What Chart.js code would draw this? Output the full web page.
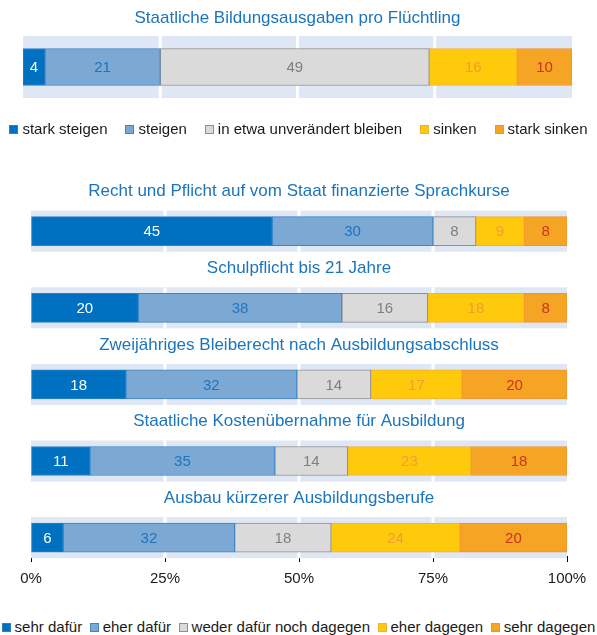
<!DOCTYPE html>
<html>
<head>
<meta charset="utf-8">
<script src="https://cdn.jsdelivr.net/npm/chart.js@4"></script>
<style>
  body { margin: 0; background: #fff; }
  #wrap { position: relative; width: 597px; height: 635px; font-family: 'Liberation Sans', Arial, sans-serif; }
  canvas { position: absolute; left: 0; }
  #top { top: 0; }
  #bottom { top: 150px; }
  .legend { position: absolute; left: 0; width: 597px; display: flex; justify-content: center; font-size: 15px; line-height: 18px; color: #1a1a1a; white-space: nowrap; }
  .legend .item { display: flex; align-items: center; }
  .legend i { display: inline-block; width: 7px; height: 7px; border: 1px solid; margin-right: 4px; }
  #legendTop { top: 120px; }
  #legendTop .item + .item { margin-left: 18px; }
  #legendBottom { top: 618px; }
  #legendBottom .item + .item { margin-left: 7.5px; }
</style>
</head>
<body>
<div id="wrap">
  <canvas id="top" width="597" height="150"></canvas>
  <div class="legend" id="legendTop"></div>
  <canvas id="bottom" width="597" height="450"></canvas>
  <div class="legend" id="legendBottom"></div>
</div>
<script>
const fontFamily = "'Liberation Sans', Arial, sans-serif";

// oberes Diagramm
const topTitle = 'Staatliche Bildungsausgaben pro Flüchtling';
const topSeries = ['stark steigen', 'steigen', 'in etwa unverändert bleiben', 'sinken', 'stark sinken'];
const topValues = [4, 21, 49, 16, 10];

// unteres Diagramm
const categories = [
  'Recht und Pflicht auf vom Staat finanzierte Sprachkurse',
  'Schulpflicht bis 21 Jahre',
  'Zweijähriges Bleiberecht nach Ausbildungsabschluss',
  'Staatliche Kostenübernahme für Ausbildung',
  'Ausbau kürzerer Ausbildungsberufe'
];
const series = ['sehr dafür', 'eher dafür', 'weder dafür noch dagegen', 'eher dagegen', 'sehr dagegen'];
const sehrDafuer = [45, 20, 17.7, 11, 6];
const eherDafuer = [30, 38, 31.9, 34.5, 32];
const weder = [8, 16, 13.8, 13.6, 18];
const eherDagegen = [9, 18, 17, 23, 24];
const sehrDagegen = [8, 8, 19.6, 17.9, 20];
const tickValues = [0, 25, 50, 75, 100];

const fills = ['#0070C0', '#7BA9D4', '#D9DAD9', '#FFC90C', '#F6A423'];
const borders = ['#2A82C9', '#3C85C6', '#8F8F8F', '#F6B02A', '#F39234'];
const labelColors = ['#FFFFFF', '#2273BE', '#7F7F7F', '#F29E33', '#C8361F'];
const titleColor = '#1B75BC';

Chart.defaults.font.family = fontFamily;

// hellblaue Streifen hinter den Balken, weisse Gitterlinien
const bandPlugin = {
  id: 'bands',
  beforeDatasetsDraw(chart, args, opts) {
    const {ctx, chartArea, scales} = chart;
    ctx.save();
    chart.data.labels.forEach((l, i) => {
      const yc = scales.y.getPixelForValue(i);
      const y0 = yc - opts.height / 2;
      ctx.fillStyle = '#DFE6F4';
      ctx.fillRect(chartArea.left, y0, chartArea.width, opts.height);
      ctx.fillStyle = '#FFFFFF';
      tickValues.slice(1, -1).forEach(v => {
        const x = scales.x.getPixelForValue(v);
        ctx.fillRect(x - 1.5, y0, 3, opts.height);
      });
    });
    ctx.restore();
  }
};

// Zahlen in den Segmenten
const valuePlugin = {
  id: 'values',
  afterDatasetsDraw(chart) {
    const {ctx} = chart;
    ctx.save();
    ctx.font = '15px ' + fontFamily;
    ctx.textAlign = 'center';
    ctx.textBaseline = 'middle';
    chart.data.datasets.forEach((ds, d) => {
      chart.getDatasetMeta(d).data.forEach((bar, i) => {
        const {x, base, y} = bar.getProps(['x', 'base', 'y'], true);
        ctx.fillStyle = labelColors[d];
        ctx.fillText(Math.round(ds.data[i]), (x + base) / 2, y + 1);
      });
    });
    ctx.restore();
  }
};

// Überschriften über den Balken
const catTitlePlugin = {
  id: 'catTitles',
  afterDraw(chart) {
    const {ctx, chartArea, scales} = chart;
    ctx.save();
    ctx.font = '17px ' + fontFamily;
    ctx.fillStyle = titleColor;
    ctx.textAlign = 'center';
    ctx.textBaseline = 'middle';
    categories.forEach((t, i) => {
      ctx.fillText(t, (chartArea.left + chartArea.right) / 2, scales.y.getPixelForValue(i) - 39.5);
    });
    ctx.restore();
  }
};

function makeDataset(label, data, i, thickness) {
  return {
    label: label,
    data: data,
    backgroundColor: fills[i],
    borderColor: borders[i],
    borderWidth: 1,
    borderSkipped: false,
    barThickness: thickness
  };
}

const graphTop = new Chart(document.getElementById('top'), {
  type: 'bar',
  data: {
    labels: [topTitle],
    datasets: topSeries.map((s, i) => makeDataset(s, [topValues[i]], i, 37))
  },
  options: {
    responsive: false,
    animation: false,
    indexAxis: 'y',
    layout: { padding: { left: 23, right: 25, top: 0, bottom: 52 } },
    scales: {
      x: { stacked: true, min: 0, max: 100, display: false },
      y: { stacked: true, display: false }
    },
    plugins: {
      legend: { display: false },
      tooltip: { enabled: false },
      title: {
        display: true,
        text: topTitle,
        color: titleColor,
        font: { size: 17, weight: 'normal' },
        padding: { top: 8, bottom: 7.6 }
      },
      bands: { height: 62 }
    }
  },
  plugins: [bandPlugin, valuePlugin]
});

const bottomData = [sehrDafuer, eherDafuer, weder, eherDagegen, sehrDagegen];

const graphBottom = new Chart(document.getElementById('bottom'), {
  type: 'bar',
  data: {
    labels: categories.map((c, i) => i),
    datasets: series.map((s, i) => makeDataset(s, bottomData[i], i, 29))
  },
  options: {
    responsive: false,
    animation: false,
    indexAxis: 'y',
    layout: { padding: { left: 31, right: 30, top: 42.9, bottom: 4 } },
    scales: {
      x: {
        stacked: true,
        min: 0,
        max: 100,
        afterBuildTicks: scale => { scale.ticks = tickValues.map(v => ({ value: v })); },
        ticks: { callback: v => v + '%', font: { size: 15 }, color: '#1a1a1a', padding: 8, maxRotation: 0 },
        grid: { drawOnChartArea: false, tickLength: 6, color: '#000' },
        border: { color: '#000' }
      },
      y: {
        type: 'linear', stacked: true, reverse: true, display: false,
        offset: false, bounds: 'data', grace: 0,
        min: -0.5, max: 4.24,
        afterDataLimits: scale => { scale.min = -0.5; scale.max = 4.24; }
      }
    },
    plugins: {
      legend: { display: false },
      tooltip: { enabled: false },
      bands: { height: 41 }
    }
  },
  plugins: [bandPlugin, valuePlugin, catTitlePlugin]
});

// Legenden
function buildLegend(el, names) {
  names.forEach((n, i) => {
    const item = document.createElement('span');
    item.className = 'item';
    const box = document.createElement('i');
    box.style.background = fills[i];
    box.style.borderColor = borders[i];
    item.appendChild(box);
    item.appendChild(document.createTextNode(n));
    el.appendChild(item);
  });
}
buildLegend(document.getElementById('legendTop'), topSeries);
buildLegend(document.getElementById('legendBottom'), series);
</script>
</body>
</html>
